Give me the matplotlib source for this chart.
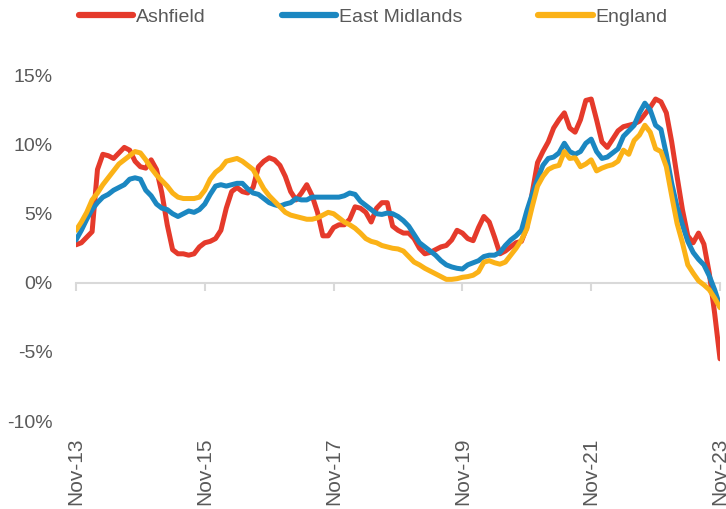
import matplotlib.pyplot as plt
import matplotlib.ticker as mticker
import numpy as np

# monthly, Nov-13 .. Nov-23 (121 points), % change
ashfield = [
    2.75, 2.9, 3.3, 3.7, 8.2, 9.3, 9.2, 9.0, 9.4, 9.8,
    9.6, 8.8, 8.4, 8.3, 8.9, 8.2, 6.5, 4.2, 2.4, 2.1,
    2.1, 2.0, 2.1, 2.6, 2.9, 3.0, 3.2, 3.8, 5.4, 6.6,
    6.9, 6.6, 6.5, 6.9, 8.4, 8.8, 9.05, 8.9, 8.5, 7.7,
    6.6, 6.0, 6.5, 7.1, 6.3, 5.1, 3.4, 3.4, 4.0, 4.2,
    4.2, 4.6, 5.5, 5.4, 5.1, 4.4, 5.4, 5.8, 5.8, 4.1,
    3.8, 3.6, 3.6, 3.2, 2.5, 2.1, 2.2, 2.4, 2.6, 2.7,
    3.1, 3.8, 3.6, 3.2, 3.05, 4.0, 4.8, 4.4, 3.3, 2.1,
    2.3, 2.6, 2.9, 3.0, 4.0, 6.5, 8.7, 9.5, 10.2, 11.2,
    11.8, 12.3, 11.2, 10.9, 11.8, 13.2, 13.3, 11.8, 10.2, 9.8,
    10.4, 11.0, 11.3, 11.4, 11.5, 11.7, 12.2, 12.7, 13.3, 13.1,
    12.3, 10.2, 7.7, 5.3, 3.4, 2.9, 3.6, 2.8, 0.7, -2.2,
    -5.5,
]
east_midlands = [
    3.1, 3.8, 4.6, 5.3, 5.8, 6.2, 6.4, 6.7, 6.9, 7.1,
    7.5, 7.6, 7.5, 6.7, 6.3, 5.7, 5.4, 5.3, 5.0, 4.8,
    5.0, 5.2, 5.1, 5.3, 5.7, 6.4, 7.0, 7.1, 7.0, 7.1,
    7.2, 7.2, 6.8, 6.5, 6.4, 6.1, 5.8, 5.65, 5.55, 5.7,
    5.8, 6.1, 6.0, 6.0, 6.2, 6.2, 6.2, 6.2, 6.2, 6.2,
    6.3, 6.5, 6.4, 5.9, 5.6, 5.3, 5.0, 4.95, 5.05, 5.0,
    4.8, 4.5, 4.1, 3.5, 2.9, 2.6, 2.3, 2.0, 1.6, 1.3,
    1.15, 1.05, 1.0, 1.3, 1.45, 1.6, 1.9, 2.0, 2.0, 2.2,
    2.7, 3.1, 3.4, 3.8, 5.2, 6.4, 7.5, 8.5, 9.0, 9.1,
    9.4, 10.1, 9.5, 9.3, 9.5, 10.1, 10.4, 9.5, 9.0, 9.1,
    9.4, 9.7, 10.6, 11.0, 11.4, 12.3, 13.0, 12.5, 11.4, 11.1,
    9.3, 7.2, 5.5, 4.2, 3.0, 2.2, 1.7, 1.3, 0.5, -0.5,
    -1.7,
]
england = [
    3.8, 4.4, 5.1, 6.0, 6.5, 7.1, 7.6, 8.1, 8.6, 8.9,
    9.2, 9.5, 9.4, 8.9, 8.3, 7.8, 7.4, 7.0, 6.5, 6.2,
    6.1, 6.1, 6.1, 6.2, 6.7, 7.5, 8.0, 8.3, 8.8, 8.9,
    9.0, 8.8, 8.5, 8.2, 7.5, 6.8, 6.3, 5.9, 5.5, 5.1,
    4.9, 4.8, 4.7, 4.6, 4.6, 4.7, 4.9, 5.1, 5.0, 4.7,
    4.4, 4.2, 3.95, 3.6, 3.2, 3.0, 2.9, 2.7, 2.6, 2.5,
    2.45, 2.3, 1.9, 1.5, 1.3, 1.05, 0.85, 0.65, 0.45, 0.25,
    0.25, 0.3, 0.4, 0.45, 0.55, 0.8, 1.5, 1.6, 1.45, 1.35,
    1.5, 2.0, 2.5, 3.1, 3.9, 5.5, 7.0, 7.7, 8.2, 8.4,
    8.5, 9.5, 9.0, 9.05, 8.4, 8.6, 8.9, 8.1, 8.3, 8.45,
    8.55, 8.8, 9.6, 9.3, 10.3, 10.7, 11.4, 10.9, 9.7, 9.5,
    8.4, 6.3, 4.3, 2.9, 1.3, 0.7, 0.15, -0.15, -0.5, -1.1,
    -1.8,
]
tick_labels = ['Nov-13', 'Nov-15', 'Nov-17', 'Nov-19', 'Nov-21', 'Nov-23']
y_ticks = [-10, -5, 0, 5, 10, 15]

GREY = '#595959'
plt.rcParams['font.family'] = ['Liberation Sans', 'DejaVu Sans']

months = np.arange(len(ashfield))
tick_pos = np.arange(0, len(ashfield), 24)

fig = plt.figure(figsize=(7.26, 5.09), dpi=100)
ax = fig.add_axes([76 / 726, 88 / 509, 644 / 726, 380 / 509])

ax.plot(months, ashfield, color='#E53A2B', lw=3.6, label='Ashfield',
        solid_capstyle='round', solid_joinstyle='round', zorder=3)
ax.plot(months, east_midlands, color='#1B87C1', lw=3.6, label='East Midlands',
        solid_capstyle='round', solid_joinstyle='round', zorder=4)
ax.plot(months, england, color='#FBB217', lw=3.6, label='England',
        solid_capstyle='round', solid_joinstyle='round', zorder=5)

ax.set_xlim(0, 120)
ax.set_ylim(-10, 17.5)

for s in ['top', 'right', 'left']:
    ax.spines[s].set_visible(False)
ax.spines['bottom'].set_position(('data', 0))
ax.spines['bottom'].set_color('#D9D9D9')
ax.spines['bottom'].set_linewidth(1.5)
ax.set_xticks(tick_pos)
ax.tick_params(axis='x', length=6, width=1.5, color='#D9D9D9', labelbottom=False)

sec = ax.secondary_xaxis('bottom')
sec.set_xticks(tick_pos)
sec.set_xticklabels(tick_labels, rotation=90, fontsize=15, color=GREY)
sec.tick_params(length=0, pad=12)
sec.spines['bottom'].set_visible(False)

ax.set_yticks(y_ticks)
ax.yaxis.set_major_formatter(mticker.FuncFormatter(lambda v, p: '%d%%' % v))
ax.tick_params(axis='y', length=0, pad=17, labelsize=14, labelcolor=GREY)

leg = fig.legend(loc='center', bbox_to_anchor=(0.514, 0.966), ncol=3,
                 frameon=False, handlelength=2.8, handletextpad=0.15,
                 columnspacing=3.9, prop={'size': 14})
for t in leg.get_texts():
    t.set_color(GREY)
for h in leg.get_lines():
    h.set_linewidth(4.5)

fig.savefig('out.png', dpi=100)
